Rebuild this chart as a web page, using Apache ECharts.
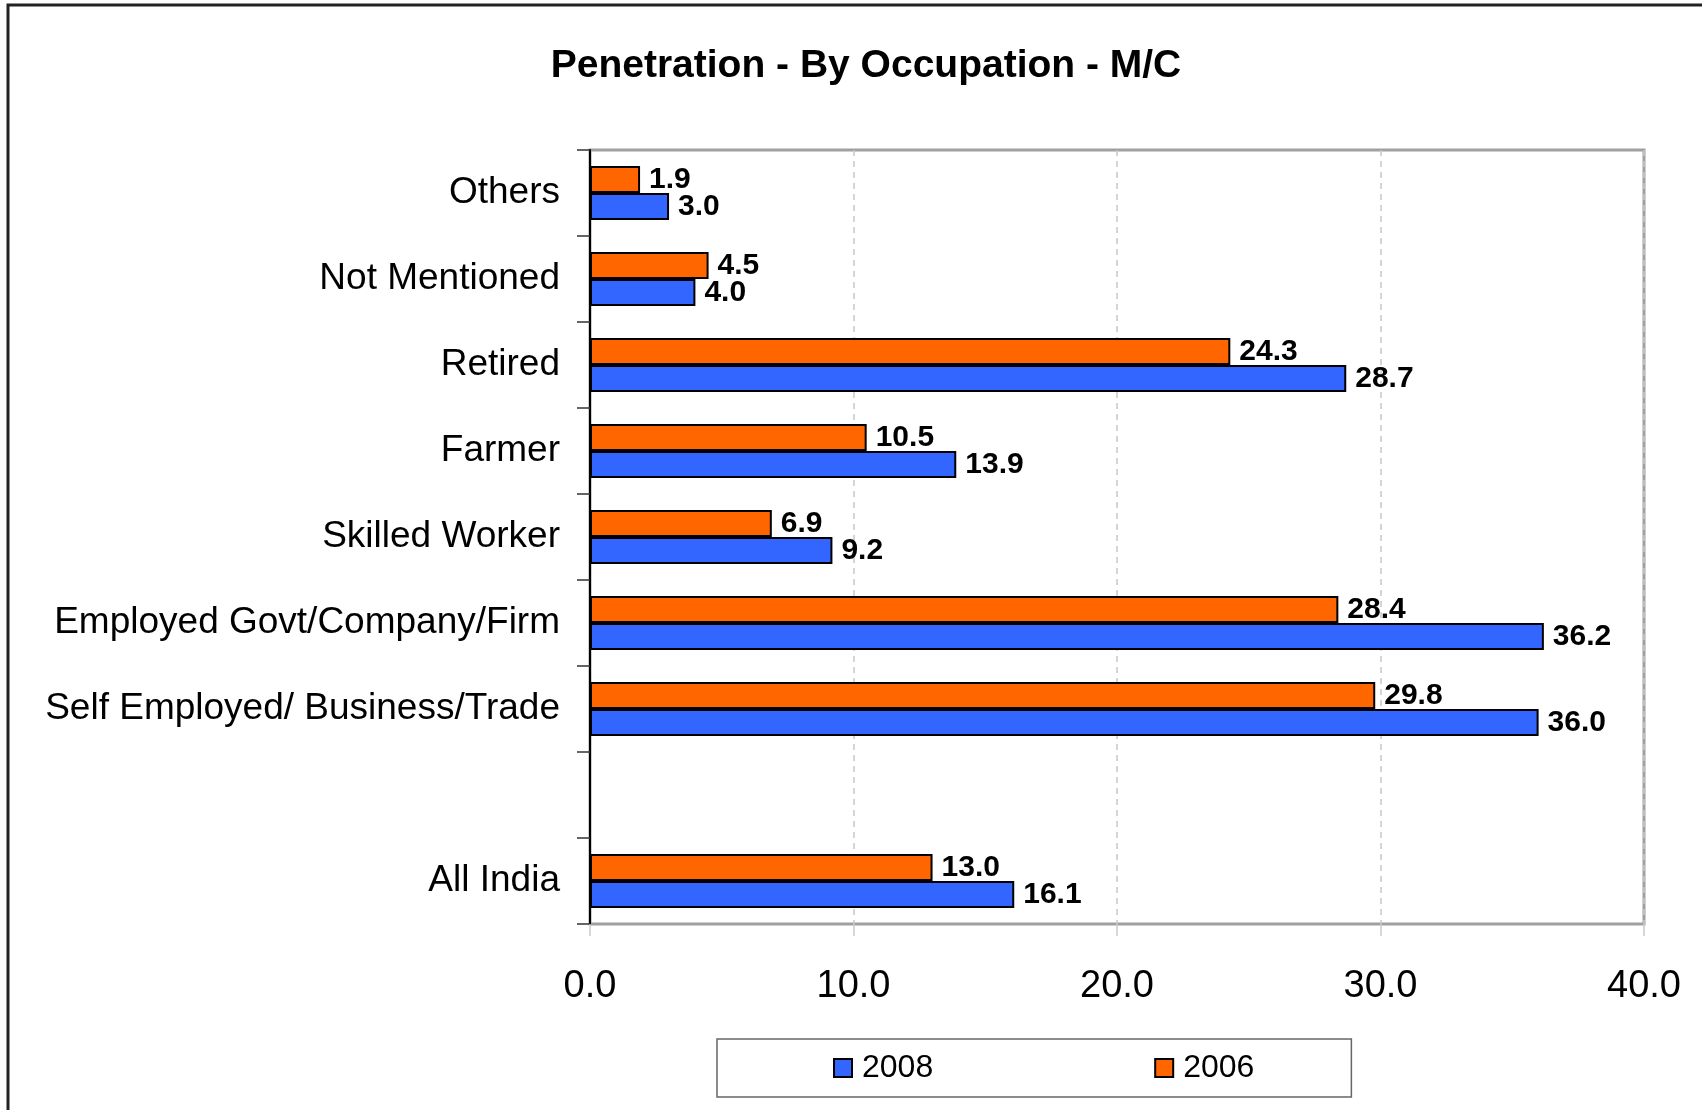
<!DOCTYPE html>
<html>
<head>
<meta charset="utf-8">
<style>
html, body { margin: 0; padding: 0; background: #fff; }
#chart { width: 1702px; height: 1110px; }
</style>
<script src="https://cdn.jsdelivr.net/npm/echarts@6/dist/echarts.min.js"></script>
</head>
<body>
<div id="chart"></div>
<script>
// categories top to bottom (blank slot before All India)
var categories = [
  "Others",
  "Not Mentioned",
  "Retired",
  "Farmer",
  "Skilled Worker",
  "Employed Govt/Company/Firm",
  "Self Employed/ Business/Trade",
  "",
  "All India"
];
var values2006 = [1.9, 4.5, 24.3, 10.5, 6.9, 28.4, 29.8, null, 13.0];
var values2008 = [3.0, 4.0, 28.7, 13.9, 9.2, 36.2, 36.0, null, 16.1];
var xTicks = [0, 10, 20, 30, 40];

var FONT = "'Liberation Sans', Arial, Helvetica, sans-serif";

var myChart = echarts.init(document.getElementById("chart"));

var valueLabel = {
  show: true,
  position: "right",
  distance: 9,
  color: "#000",
  fontFamily: FONT,
  fontWeight: "bold",
  fontSize: 30,
  formatter: function (p) {
    return p.value == null ? "" : Number(p.value).toFixed(1);
  }
};

var option = {
  backgroundColor: "#fff",
  animation: false,
  title: {
    text: "Penetration - By Occupation - M/C",
    left: 861,
    textAlign: "center",
    top: 42,
    textStyle: {
      fontFamily: FONT,
      fontWeight: "bold",
      fontSize: 39,
      color: "#000"
    }
  },
  legend: {
    data: ["2008", "2006"],
    icon: "rect",
    left: 717,
    top: 1039,
    padding: [13, 97, 13, 116],
    itemGap: 221,
    itemWidth: 18,
    itemHeight: 18,
    itemStyle: { borderColor: "#000", borderWidth: 2 },
    borderColor: "#666",
    borderWidth: 1.5,
    borderRadius: 0,
    textStyle: { fontFamily: FONT, fontSize: 32, color: "#000", padding: [0, 0, 0, 5] }
  },
  grid: {
    left: 590,
    right: 58,
    top: 150,
    bottom: 186,
    show: true,
    borderColor: "#a0a0a0",
    borderWidth: 3,
    containLabel: false
  },
  xAxis: {
    type: "value",
    min: xTicks[0],
    max: xTicks[xTicks.length - 1],
    interval: 10,
    axisLine: { show: false },
    axisTick: { show: true, length: 12, lineStyle: { color: "#cccccc", width: 1.5 } },
    splitLine: {
      show: true,
      lineStyle: { color: "#c8c8c8", width: 1.5, type: [6, 5] }
    },
    axisLabel: {
      margin: 44,
      fontFamily: FONT,
      fontSize: 38,
      color: "#000",
      formatter: function (v) { return v.toFixed(1); }
    }
  },
  yAxis: {
    type: "category",
    inverse: true,
    data: categories,
    axisLine: { show: true, lineStyle: { color: "#000", width: 2 } },
    axisTick: { show: true, length: 13, lineStyle: { color: "#333", width: 1.5 } },
    axisLabel: {
      margin: 30,
      fontFamily: FONT,
      fontSize: 37,
      color: "#000"
    },
    splitLine: { show: false }
  },
  series: [
    {
      name: "2006",
      type: "bar",
      data: values2006,
      barGap: "0%",
      barCategoryGap: "37%",
      itemStyle: { color: "#FF6600", borderColor: "#000", borderWidth: 2 },
      label: valueLabel
    },
    {
      name: "2008",
      type: "bar",
      data: values2008,
      barGap: "0%",
      barCategoryGap: "37%",
      itemStyle: { color: "#3366FF", borderColor: "#000", borderWidth: 2 },
      label: valueLabel
    }
  ],
  graphic: [
    {
      type: "polyline",
      shape: { points: [[8, 1110], [8, 5], [1702, 5]] },
      style: { stroke: "#222", lineWidth: 3, fill: null },
      silent: true
    }
  ]
};

myChart.setOption(option);
</script>
</body>
</html>
